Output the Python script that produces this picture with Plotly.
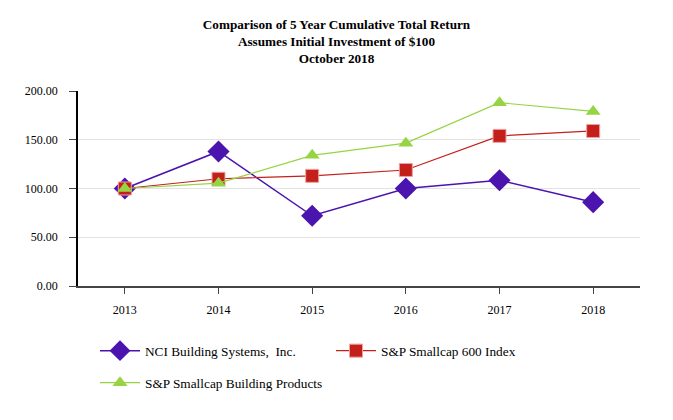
import plotly.graph_objects as go

years = ["2013", "2014", "2015", "2016", "2017", "2018"]
nci = [100.0, 138.0, 72.0, 100.0, 108.5, 86.0]
sp600 = [100.0, 110.0, 113.0, 119.0, 154.0, 159.0]
bldg = [100.0, 105.5, 134.0, 146.5, 188.0, 179.0]
yticks = [0, 50, 100, 150, 200]

FONT = "Liberation Serif, Times New Roman, serif"
PURPLE = "#4b14ae"
RED = "#c3201b"
GREEN = "#97d443"

fig = go.Figure()
fig.add_trace(go.Scatter(x=years, y=nci, mode="lines+markers", name="NCI Building Systems,  Inc.",
                         line=dict(color=PURPLE, width=1.5),
                         marker=dict(symbol="diamond", size=17, color=PURPLE), legend="legend"))
fig.add_trace(go.Scatter(x=years, y=sp600, mode="lines+markers", name="S&P Smallcap 600 Index",
                         line=dict(color=RED, width=1.2),
                         marker=dict(symbol="square", size=13, color=RED, line=dict(color="#f0a0a0", width=1)), legend="legend"))
fig.add_trace(go.Scatter(x=years, y=bldg, mode="lines+markers", name="S&P Smallcap Building Products",
                         line=dict(color=GREEN, width=1.2),
                         marker=dict(symbol="triangle-up", size=13, color=GREEN), legend="legend2"))

plot_h = 420 - 91 - 134
plot_w = 673 - 78 - 33
def paper_y(py):
    return (420 - 134 - py) / plot_h
def paper_x(px):
    return (px - 78) / plot_w

fig.update_layout(
    width=673, height=420,
    margin=dict(l=78, r=33, t=91, b=134),
    paper_bgcolor="white", plot_bgcolor="white",
    font=dict(family=FONT, size=12, color="black"),
    title=dict(text="<b>Comparison of 5 Year Cumulative Total Return<br>Assumes Initial Investment of $100<br>October 2018</b>",
               x=0.5, xanchor="center", y=1 - 29 / 420, yanchor="top", font=dict(family=FONT, size=13.2)),
    xaxis=dict(type="category", range=[-0.5, 5.5], showline=True, linecolor="#444", linewidth=1.5,
               ticks="outside", ticklen=6, tickcolor="#444", showgrid=False, ticklabelstandoff=6,
               tickfont=dict(family=FONT, size=12)),
    yaxis=dict(range=[0, 200], tickvals=yticks, tickformat=".2f", showline=True, linecolor="black", linewidth=1.5,
               ticks="outside", ticklen=7, tickcolor="#444", showgrid=True, gridcolor="#e3e3e3", gridwidth=1,
               zeroline=False, ticklabelstandoff=9, tickfont=dict(family=FONT, size=12)),
    legend=dict(orientation="h", x=paper_x(95), xanchor="left", y=paper_y(351), yanchor="middle",
                entrywidth=181, itemwidth=40,
                font=dict(family=FONT, size=13.3), bgcolor="rgba(0,0,0,0)"),
    legend2=dict(orientation="h", x=paper_x(95), xanchor="left", y=paper_y(383), yanchor="middle",
                 itemwidth=40, font=dict(family=FONT, size=13.3), bgcolor="rgba(0,0,0,0)"),
    showlegend=True,
)

fig.write_html("out.html")
